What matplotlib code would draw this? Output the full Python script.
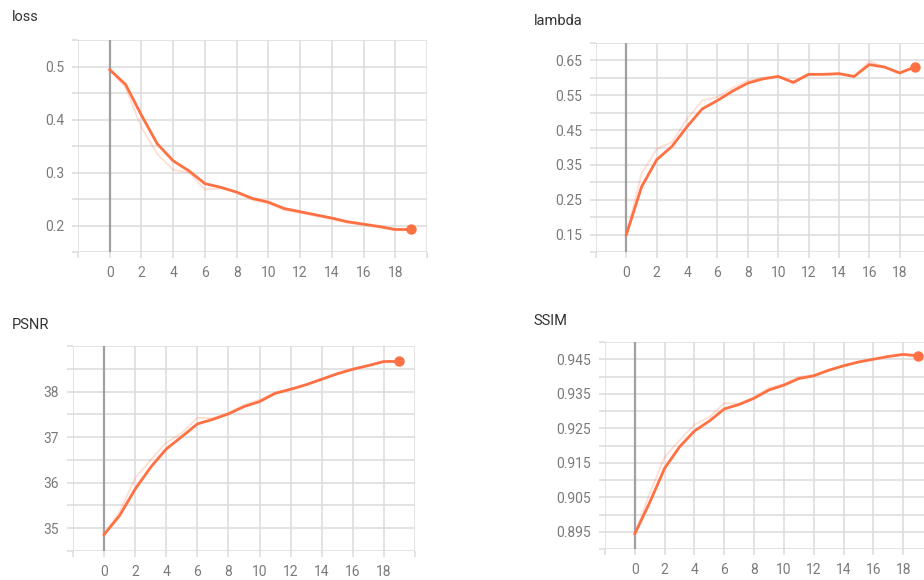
import matplotlib
matplotlib.use('Agg')
import matplotlib.pyplot as plt
import numpy as np

plt.rcParams['font.family'] = ['Roboto', 'DejaVu Sans']

# pasos de entrenamiento
pasos = list(range(20))

# curvas suavizadas (linea gruesa) y valores crudos (linea tenue)
loss_suave = [0.494, 0.466, 0.408, 0.354, 0.322, 0.303, 0.279, 0.272, 0.263, 0.251,
              0.244, 0.232, 0.226, 0.220, 0.214, 0.207, 0.2025, 0.198, 0.1925, 0.1925]
loss_crudo = [0.494, 0.460, 0.385, 0.335, 0.305, 0.300, 0.268, 0.270, 0.262, 0.248,
              0.242, 0.229, 0.224, 0.218, 0.212, 0.205, 0.201, 0.196, 0.191, 0.191]

lambda_suave = [0.150, 0.287, 0.365, 0.403, 0.460, 0.511, 0.535, 0.562, 0.585, 0.597,
                0.604, 0.587, 0.610, 0.610, 0.612, 0.604, 0.638, 0.631, 0.614, 0.631]
lambda_crudo = [0.150, 0.325, 0.396, 0.415, 0.482, 0.535, 0.545, 0.571, 0.592, 0.600,
                0.604, 0.583, 0.612, 0.610, 0.612, 0.602, 0.648, 0.631, 0.612, 0.633]

psnr_suave = [34.86, 35.28, 35.86, 36.34, 36.74, 37.01, 37.29, 37.39, 37.51, 37.67,
              37.78, 37.96, 38.05, 38.15, 38.27, 38.39, 38.49, 38.57, 38.66, 38.66]
psnr_crudo = [34.86, 35.37, 36.10, 36.50, 36.88, 37.09, 37.42, 37.42, 37.53, 37.71,
              37.82, 37.98, 38.06, 38.16, 38.28, 38.40, 38.50, 38.58, 38.67, 38.66]

ssim_suave = [0.8944, 0.9035, 0.9134, 0.9196, 0.9242, 0.9271, 0.9306, 0.9319, 0.9337, 0.9361,
              0.9375, 0.9394, 0.9402, 0.9418, 0.9431, 0.9442, 0.9450, 0.9458, 0.9464, 0.9460]
ssim_crudo = [0.8944, 0.9061, 0.9167, 0.9215, 0.9261, 0.9282, 0.9323, 0.9321, 0.9340, 0.9367,
              0.9378, 0.9399, 0.9404, 0.9420, 0.9432, 0.9443, 0.9451, 0.9459, 0.9465, 0.9460]

naranja = '#ff7043'
gris_rejilla = '#dedede'

# (titulo, suave, crudo, ylim, paso rejilla, etiquetas y, formato, caja en px, titulo en px)
paneles = [
    ('loss', loss_suave, loss_crudo, (0.15, 0.55), 0.05,
     [0.2, 0.3, 0.4, 0.5], '{:.1f}', (78, 40, 427, 252), (12, 17)),
    ('lambda', lambda_suave, lambda_crudo, (0.10, 0.70), 0.05,
     [0.15, 0.25, 0.35, 0.45, 0.55, 0.65], '{:.2f}', (596, 43, 930, 252), (534, 21)),
    ('PSNR', psnr_suave, psnr_crudo, (34.5, 39.0), 0.5,
     [35, 36, 37, 38], '{:.0f}', (73, 346, 415, 551), (12, 325)),
    ('SSIM', ssim_suave, ssim_crudo, (0.89, 0.95), 0.005,
     [0.895, 0.905, 0.915, 0.925, 0.935, 0.945], '{:.3f}', (605, 342, 933, 549), (533, 321)),
]

W, H = 924, 580
fig = plt.figure(figsize=(W / 100, H / 100), dpi=100)

for titulo, suave, crudo, ylim, paso_y, etiquetas, fmt, caja, pos_tit in paneles:
    x0, y0, x1, y1 = caja
    ax = fig.add_axes([x0 / W, 1 - y1 / H, (x1 - x0) / W, (y1 - y0) / H])
    ax.set_xlim(-2, 20)
    ax.set_ylim(*ylim)

    # rejilla: cada 2 en x, cada paso_y en y
    xs = np.arange(-2, 20.01, 2)
    ys = np.arange(ylim[0], ylim[1] + paso_y / 2, paso_y)
    ax.set_xticks(xs)
    ax.set_xticklabels(['' if (v < 0 or v > 18) else '{:.0f}'.format(v) for v in xs])
    ax.set_yticks(ys)
    ax.set_yticklabels([fmt.format(v) if any(abs(v - e) < paso_y / 10 for e in etiquetas) else ''
                        for v in ys])
    ax.grid(True, color=gris_rejilla, lw=1.2)
    for lado in ax.spines.values():
        lado.set_visible(False)
    ax.tick_params(axis='both', length=4, width=1.2, color=gris_rejilla,
                   labelcolor='#7a7a7a', labelsize=10, pad=6)
    # linea vertical en el paso 0, por encima de la rejilla
    ax.axvline(0, color='#a0a0a0', lw=1.6, zorder=2)

    ax.plot(pasos, crudo, color=naranja, alpha=0.22, lw=1.3, zorder=3, clip_on=False)
    ax.plot(pasos, suave, color=naranja, lw=2.0, zorder=4, clip_on=False)
    ax.plot(pasos[-1], suave[-1], 'o', color=naranja, ms=6.5, zorder=5, clip_on=False)

    fig.text(pos_tit[0] / W, 1 - pos_tit[1] / H, titulo, fontsize=10.5, color='#333333',
             ha='left', va='center')

fig.savefig('out.png', dpi=100, facecolor='white')
